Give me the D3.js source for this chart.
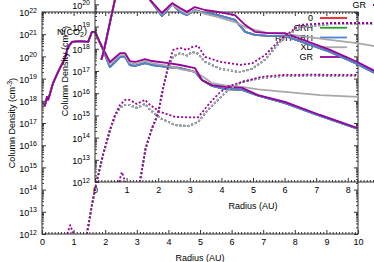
<!DOCTYPE html>
<html>
<head>
<meta charset="utf-8">
<script src="https://cdn.jsdelivr.net/npm/d3@7/dist/d3.min.js"></script>
<style>
body { margin: 0; background: #fff; }
text { font-family: "Liberation Sans", Arial, sans-serif; font-size: 9px; fill: #000; }
</style>
</head>
<body>
<script>
var width = 374, height = 262,
    plotW = 316, plotH = 222;

// series names and colours, in plot order
var names = ["0", "CRH", "PHYCRH", "XD", "GR"];
var colors = ["#ee2020", "#22a02a", "#4f7fdf", "#a8a8a8", "#990099"];

var xTicks = [0, 1, 2, 3, 4, 5, 6, 7, 8, 9, 10];
var yTicks = [1e12, 1e13, 1e14, 1e15, 1e16, 1e17, 1e18, 1e19, 1e20, 1e21, 1e22];
var yExp = ["12", "13", "14", "15", "16", "17", "18", "19", "20", "21", "22"];

// main panel, solid lines (cm^-3)
var radMain = [0.08, 0.12, 0.16, 0.19, 0.25, 0.35, 0.51, 0.73, 0.82, 0.95, 1.2, 1.46, 1.58, 1.68, 1.84, 2.15, 2.47, 2.63, 2.78, 2.94, 3.26, 3.48, 4.0, 4.37, 4.84, 5.06, 5.38, 5.79, 6.33, 6.84, 7.69, 8.8, 10];
var mainGR  = [5.6e17, 8.9e17, 1.5e18, 1.1e18, 2.0e18, 6.3e18, 2.0e19, 8.5e19, 2.6e20, 4.5e20, 4.9e20, 4.5e20, 1.26e21, 1.26e21, 4.0e20, 5.6e19, 1.4e20, 1.4e20, 6.2e19, 5.6e19, 7.6e19, 6.2e19, 5.0e19, 4.1e19, 3.0e19, 8.7e18, 5.1e18, 4.2e18, 3.8e18, 1.8e18, 8.9e17, 2.3e17, 5.9e16];
var mainPHY = [5.6e17, 8.9e17, 1.5e18, 1.1e18, 2.0e18, 6.3e18, 2.0e19, 8.5e19, 2.6e20, 4.5e20, 4.9e20, 4.5e20, 1.26e21, 1.26e21, 4.0e20, 3.3e19, 9.3e19, 9.3e19, 4.1e19, 3.7e19, 5.0e19, 4.1e19, 3.3e19, 3.0e19, 2.0e19, 8.7e18, 4.7e18, 3.4e18, 3.1e18, 1.7e18, 7.9e17, 2.1e17, 5.4e16];
var mainXD  = [5.6e17, 8.9e17, 1.5e18, 1.1e18, 2.0e18, 6.3e18, 2.0e19, 8.5e19, 2.6e20, 4.5e20, 4.9e20, 4.5e20, 1.26e21, 1.26e21, 4.0e20, 4.6e19, 1.15e20, 1.15e20, 5.0e19, 4.6e19, 6.2e19, 5.0e19, 3.7e19, 2.7e19, 2.0e19, 1.3e19, 6.3e18, 5.0e18, 4.2e18, 3.3e18, 2.5e18, 1.8e18, 1.5e18];

// main panel, dotted lines
var radMainIce = [1.42, 1.58, 1.74, 1.93, 2.15, 2.31, 2.47, 2.63, 2.78, 3.0, 3.26, 3.42, 3.73, 4.21, 4.62, 4.94, 5.25, 5.57, 5.89, 6.33, 6.96, 7.6, 8.5, 10];
var mainIceGR  = [1.0e12, 2.0e13, 2.7e14, 3.6e15, 4.8e16, 2.3e17, 6.5e17, 1.1e18, 1.1e18, 7.2e17, 1.1e18, 6.5e17, 3.2e17, 1.9e17, 1.8e17, 1.8e17, 6.3e17, 2.0e18, 4.5e18, 7.1e18, 1.2e19, 1.45e19, 1.5e19, 1.45e19];
var mainIcePHY = [1.0e12, 2.0e13, 2.7e14, 3.6e15, 4.8e16, 2.0e17, 5.0e17, 6.5e17, 6.5e17, 4.8e17, 7.2e17, 3.9e17, 1.7e17, 8.1e16, 7.2e16, 1.1e17, 3.9e17, 1.1e18, 3.1e18, 7.1e18, 1.07e19, 1.3e19, 1.4e19, 1.3e19];
var radMainSpike = [0.8, 0.89, 1.0];
var mainSpike = [1e12, 2.5e12, 1e12];

// inset, solid lines N(CO2) (cm^-2)
var radInset = [0.2, 0.28, 0.47, 0.63, 0.9, 1.2, 1.45, 1.6, 1.74, 2.12, 2.44, 2.69, 2.91, 3.16, 3.48, 3.89, 4.43, 4.75, 5.06, 5.47, 6.01, 7.44, 8.29, 8.8, 10];
var insetGR  = [3.2e17, 8.0e17, 1.45e19, 1.6e20, 6.3e20, 7.9e20, 1.0e21, 7.9e20, 1.6e20, 4.1e19, 1.15e20, 6.9e19, 4.6e19, 7.6e19, 5.6e19, 4.6e19, 3.3e19, 1.2e19, 5.8e18, 5.1e18, 5.1e18, 8.9e17, 2.6e17, 1.1e17, 2.0e16];
var insetPHY = [3.2e17, 8.0e17, 1.45e19, 1.6e20, 6.3e20, 7.9e20, 1.0e21, 7.9e20, 1.6e20, 3.0e19, 1.0e20, 4.6e19, 3.3e19, 5.6e19, 4.1e19, 3.3e19, 2.0e19, 5.8e18, 4.2e18, 3.8e18, 3.8e18, 7.2e17, 2.1e17, 8.9e16, 1.8e16];
var insetXD  = [3.2e17, 8.0e17, 1.45e19, 1.6e20, 6.3e20, 7.9e20, 1.0e21, 7.9e20, 1.6e20, 3.7e19, 1.0e20, 5.6e19, 3.7e19, 5.6e19, 3.7e19, 2.7e19, 1.6e19, 9.5e18, 7.1e18, 5.1e18, 4.7e18, 2.5e18, 1.8e18, 1.35e18, 1.0e18];

// inset, dotted lines
var radInsetIce = [1.42, 1.6, 1.8, 2.0, 2.15, 2.31, 2.47, 2.69, 2.91, 3.07, 3.26, 3.48, 3.96, 4.59, 4.97, 5.38, 5.85, 6.17, 6.49, 7.44, 10];
var insetIceGR  = [1.0e12, 3.2e13, 2.5e14, 1.26e15, 1.6e16, 1.6e17, 8.9e17, 1.1e18, 8.9e17, 1.2e18, 1.35e18, 4.3e17, 2.6e17, 1.9e17, 2.2e17, 5.2e17, 2.5e18, 5.6e18, 1.2e19, 1.45e19, 1.45e19];
var insetIcePHY = [1.0e12, 3.2e13, 2.5e14, 1.26e15, 1.6e16, 1.26e17, 4.5e17, 6.3e17, 5.0e17, 7.2e17, 6.0e17, 2.6e17, 1.26e17, 8.9e16, 1.26e17, 3.2e17, 2.0e18, 5.0e18, 9.5e18, 1.3e19, 1.3e19];
var radInsetSpike = [0.76, 0.85, 0.96];
var insetSpike = [1e12, 2.8e12, 1e12];

var svg = d3.select("body").append("svg")
    .attr("width", width)
    .attr("height", height);

var x = d3.scaleLinear().domain([0, 10]).range([0, plotW]);
var y = d3.scaleLog().domain([1e12, 1e22]).range([plotH, 0]);

var line = d3.line()
    .x(d => x(d[0]))
    .y(d => y(d[1]));

function pairs(r, v) {
    return r.map((d, i) => [d, v[i]]);
}

// minor ticks
var xMinor = d3.range(0, 100).map(i => i / 10).filter(d => d % 1 != 0);
var yMinor = [];
yTicks.slice(0, -1).forEach(d => {
    for (var m = 2; m < 10; m++) yMinor.push(d * m);
});

function ticks(g, axis, values, size, labels) {
    var a = g.append("g").call(axis.tickValues(values).tickSizeInner(-size).tickSizeOuter(0)
        .tickPadding(5).tickFormat(labels ? null : ""));
    a.select(".domain").remove();
    a.selectAll("line").attr("stroke", "#333");
    return a;
}

function panel(id, left, top, curves) {
    var g = svg.append("g").attr("transform", "translate(" + left + "," + top + ")");

    g.append("clipPath").attr("id", id)
        .append("rect").attr("width", plotW).attr("height", plotH);

    // frame and mirrored ticks
    g.append("rect")
        .attr("width", plotW).attr("height", plotH)
        .attr("fill", "none").attr("stroke", "#333");

    var bottom = g.append("g").attr("transform", "translate(0," + plotH + ")");
    var xb = ticks(bottom, d3.axisBottom(x), xTicks, 4, true);
    xb.selectAll("text").text(d => d);
    ticks(bottom, d3.axisBottom(x), xMinor, 2, false);
    ticks(g, d3.axisTop(x), xTicks, 4, false);
    ticks(g, d3.axisTop(x), xMinor, 2, false);

    var yl = ticks(g, d3.axisLeft(y), yTicks, 4, true);
    yl.selectAll("text").attr("dy", "0.4em").each(function(d, i) {
        var t = d3.select(this).text("10");
        t.append("tspan").attr("dy", "-0.5em").attr("font-size", "7px").text(yExp[i]);
    });
    ticks(g, d3.axisLeft(y), yMinor, 2, false);
    var right = g.append("g").attr("transform", "translate(" + plotW + ",0)");
    ticks(right, d3.axisRight(y), yTicks, 4, false);
    ticks(right, d3.axisRight(y), yMinor, 2, false);

    // axis titles
    g.append("text")
        .attr("x", plotW / 2).attr("y", 249)
        .attr("text-anchor", "middle")
        .text("Radius (AU)");

    var yt = g.append("text")
        .attr("transform", "translate(-27," + plotH / 2 + ") rotate(-90)")
        .attr("text-anchor", "middle")
        .text("Column Density (cm");
    yt.append("tspan").attr("dy", "-0.5em").attr("font-size", "7px").text(id == "main" ? "-3" : "-2");
    yt.append("tspan").attr("dy", "0.5em").text(")");

    // lines
    var lines = g.append("g").attr("clip-path", "url(#" + id + ")");
    curves.forEach(c => {
        lines.append("path")
            .attr("d", line(pairs(c.r, c.v)))
            .attr("fill", "none")
            .attr("stroke", colors[c.s])
            .attr("stroke-width", 1.8)
            .attr("stroke-linejoin", "round")
            .attr("stroke-dasharray", c.dot ? "2,2" : null);
    });

    // key
    names.forEach((n, i) => {
        var ky = 6 + i * 9.75;
        g.append("text")
            .attr("x", 271).attr("y", ky + 3.2)
            .attr("text-anchor", "end")
            .text(n);
        g.append("line")
            .attr("x1", 278).attr("x2", 305)
            .attr("y1", ky).attr("y2", ky)
            .attr("stroke", colors[i]).attr("stroke-width", 1.8);
    });
    return g;
}

panel("main", 42, 12, [
    {s: 0, r: radMain, v: mainPHY},
    {s: 1, r: radMain, v: mainPHY},
    {s: 2, r: radMain, v: mainPHY},
    {s: 3, r: radMain, v: mainXD},
    {s: 4, r: radMain, v: mainGR},
    {s: 0, r: radMainIce, v: mainIcePHY, dot: true},
    {s: 1, r: radMainIce, v: mainIcePHY, dot: true},
    {s: 2, r: radMainIce, v: mainIcePHY, dot: true},
    {s: 3, r: radMainIce, v: mainIcePHY, dot: true},
    {s: 4, r: radMainIce, v: mainIceGR, dot: true},
    {s: 4, r: radMainSpike, v: mainSpike, dot: true}
]);

var inset = panel("inset", 95, -40, [
    {s: 0, r: radInset, v: insetPHY},
    {s: 1, r: radInset, v: insetPHY},
    {s: 2, r: radInset, v: insetPHY},
    {s: 3, r: radInset, v: insetXD},
    {s: 4, r: radInset, v: insetGR},
    {s: 0, r: radInsetIce, v: insetIcePHY, dot: true},
    {s: 1, r: radInsetIce, v: insetIcePHY, dot: true},
    {s: 2, r: radInsetIce, v: insetIcePHY, dot: true},
    {s: 3, r: radInsetIce, v: insetIcePHY, dot: true},
    {s: 4, r: radInsetIce, v: insetIceGR, dot: true},
    {s: 4, r: radInsetSpike, v: insetSpike, dot: true}
]);

// species label of the inset
var lab = inset.append("text").attr("x", -38).attr("y", 75).text("N(CO");
lab.append("tspan").attr("dy", "0.35em").attr("font-size", "7px").text("2");
lab.append("tspan").attr("dy", "-0.35em").text(")");
</script>
</body>
</html>
